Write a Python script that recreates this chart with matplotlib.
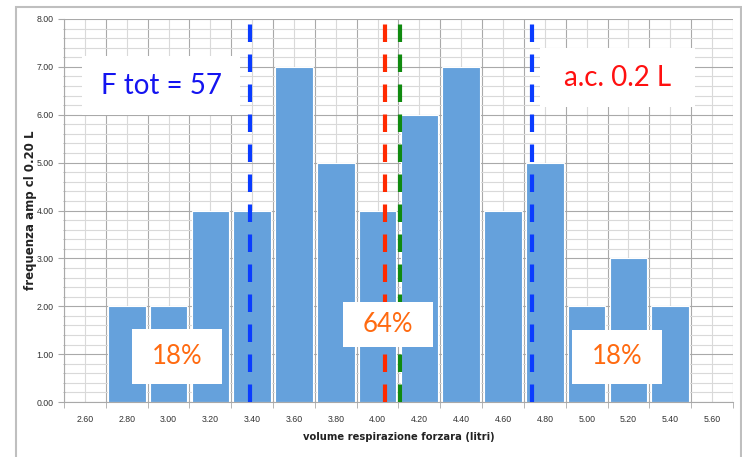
"""
Istogramma della capacita' vitale forzata (classi di ampiezza 0.20 L)
con linee di riferimento e riquadri di testo in stile Excel.
"""

import matplotlib

matplotlib.use("Agg")
import matplotlib.pyplot as plt
from matplotlib.patches import Rectangle
from matplotlib.ticker import FixedLocator, MultipleLocator, FormatStrFormatter

# Dati
bin_centers = [2.80, 3.00, 3.20, 3.40, 3.60, 3.80, 4.00,
               4.20, 4.40, 4.60, 4.80, 5.00, 5.20, 5.40]
counts = [2, 2, 4, 4, 7, 5, 4, 6, 7, 4, 5, 2, 3, 2]
tick_values = [2.60, 2.80, 3.00, 3.20, 3.40, 3.60, 3.80, 4.00,
               4.20, 4.40, 4.60, 4.80, 5.00, 5.20, 5.40, 5.60]
tick_labels = [f"{v:.2f}" for v in tick_values]

# Linee verticali di riferimento (limiti e valori centrali)
lower_limit = 3.39
median_value = 4.035
mean_value = 4.105
upper_limit = 4.74

class_width = 0.20

BAR_COLOR = "#65A1DC"
GRID_DARK = "#A9A9A9"
GRID_LIGHT = "#D9D9D9"
FONT_BOX = "Lato"
FONT_TICKS = "Liberation Sans"


def add_box(ax, x0, x1, y0, y1, text, color, size):
    # riquadro bianco in coordinate frazionarie degli assi
    rect = Rectangle((x0, y0), x1 - x0, y1 - y0, transform=ax.transAxes,
                     facecolor="white", edgecolor="none", zorder=6)
    ax.add_patch(rect)
    ax.text((x0 + x1) / 2, (y0 + y1) / 2, text, transform=ax.transAxes,
            ha="center", va="center", color=color, fontsize=size,
            family=FONT_BOX, zorder=7)


def main():
    fig = plt.figure(figsize=(7.42, 4.57), dpi=100)
    ax = fig.add_axes([64 / 742, 1 - 402 / 457, 669 / 742, 383 / 457])

    # bordo esterno dell'area grafico
    fig.patches.append(Rectangle((16 / 742, -0.05), 725 / 742, 1.05 - 7 / 457,
                                 transform=fig.transFigure, facecolor="none",
                                 edgecolor="#BFBFBF", linewidth=1.5))

    ax.bar(bin_centers, counts, width=class_width * 0.9, color=BAR_COLOR,
           edgecolor="white", linewidth=0.8, zorder=2)

    dash = dict(linewidth=3, linestyle=(0, (4.2, 3)), zorder=4)
    ax.plot([lower_limit] * 2, [0, 8], color="#0A3CFF", **dash)
    ax.plot([upper_limit] * 2, [0, 8], color="#0A3CFF", **dash)
    ax.plot([median_value] * 2, [0, 8], color="#FF2A00", **dash)
    ax.plot([mean_value] * 2, [0, 8], color="#108A10", **dash)

    ax.set_xlim(2.50, 5.70)
    ax.set_ylim(0, 8)

    # etichette al centro delle classi, tacche ai bordi
    ax.xaxis.set_major_locator(FixedLocator(tick_values))
    ax.set_xticklabels(tick_labels, family=FONT_TICKS)
    edges = [2.50 + class_width * k for k in range(17)]
    ax.xaxis.set_minor_locator(FixedLocator(edges))
    ax.tick_params(axis="x", which="major", length=0, labelsize=6.3,
                   pad=9, labelcolor="#333333")
    ax.tick_params(axis="x", which="minor", length=4, color=GRID_DARK)

    ax.yaxis.set_major_locator(MultipleLocator(1))
    ax.yaxis.set_minor_locator(MultipleLocator(0.2))
    ax.yaxis.set_major_formatter(FormatStrFormatter("%.2f"))
    ax.tick_params(axis="y", which="major", length=4, color=GRID_DARK,
                   labelsize=6.3, labelcolor="#333333")
    ax.tick_params(axis="y", which="minor", length=2, direction="inout",
                   color=GRID_DARK)
    for lbl in ax.get_yticklabels():
        lbl.set_family(FONT_TICKS)

    ax.grid(axis="x", which="minor", color=GRID_DARK, linewidth=0.8, zorder=0)
    ax.grid(axis="x", which="major", color=GRID_LIGHT, linewidth=0.8, zorder=0)
    ax.grid(axis="y", which="major", color=GRID_DARK, linewidth=0.8, zorder=0)
    ax.grid(axis="y", which="minor", color=GRID_LIGHT, linewidth=0.8, zorder=0)
    ax.set_axisbelow(True)

    for side in ["top", "right"]:
        ax.spines[side].set_visible(False)
    for side in ["left", "bottom"]:
        ax.spines[side].set_color(GRID_DARK)
        ax.spines[side].set_linewidth(0.8)

    ax.set_xlabel("volume respirazione forzara (litri)", fontsize=7.2,
                  fontweight="bold", color="#222222", labelpad=6)
    ax.set_ylabel("frequenza amp cl 0.20 L", fontsize=8.5,
                  fontweight="bold", color="#222222")
    ax.yaxis.set_label_coords(-0.041, 0.5)

    add_box(ax, 0.027, 0.263, 0.749, 0.903, "F tot = 57", "#1414F0", 20)
    add_box(ax, 0.7115, 0.943, 0.770, 0.924, "a.c. 0.2 L", "#FF1010", 20)
    add_box(ax, 0.417, 0.5516, 0.1436, 0.261, "64%", "#FF6A10", 18.5)
    add_box(ax, 0.1016, 0.236, 0.047, 0.1906, "18%", "#FF6A10", 18.5)
    add_box(ax, 0.759, 0.894, 0.047, 0.188, "18%", "#FF6A10", 18.5)

    fig.savefig("out.png", dpi=100)


if __name__ == "__main__":
    main()
